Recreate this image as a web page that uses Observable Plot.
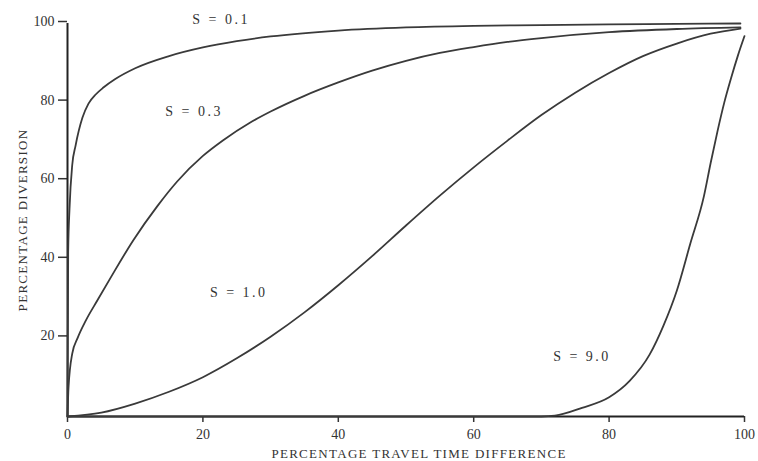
<!DOCTYPE html>
<html>
<head>
<meta charset="utf-8">
<script src="https://cdn.jsdelivr.net/npm/d3@7"></script>
<script src="https://cdn.jsdelivr.net/npm/@observablehq/plot@0.6"></script>
<style>
  html, body { margin: 0; padding: 0; background: #fff; }
  #chart { width: 758px; height: 461px; }
</style>
</head>
<body>
<div id="chart"></div>
<script>
// Series
const s01X = [0, 0.1, 0.3, 0.7, 1.2, 2.2, 3.1, 4.2, 5.3, 7, 10, 15, 20, 25, 30, 40, 50, 60, 70, 80, 90, 99.4];
const s01Y = [0, 42, 53, 64, 69, 76, 79.6, 82, 83.7, 85.8, 88.6, 91.7, 93.9, 95.5, 96.7, 98.2, 99, 99.4, 99.6, 99.8, 99.9, 100];

const s03X = [0, 0.15, 0.7, 1.5, 2.7, 4.4, 6.4, 9.7, 13.3, 16.2, 20, 23, 27, 30, 35, 40, 45, 50, 55, 60, 65, 70, 80, 90, 99.4];
const s03Y = [0, 7.4, 16, 20, 24.4, 29.5, 35.4, 44.8, 53.6, 59.8, 66.3, 70.3, 74.8, 77.6, 81.6, 85, 88, 90.5, 92.5, 94, 95.3, 96.3, 97.8, 98.6, 99];

const s10X = [0, 5, 10, 15, 20, 25, 30, 35, 40, 45, 50, 55, 60, 65, 70, 75, 80, 85, 90, 95, 99.4];
const s10Y = [0, 1, 3.3, 6.3, 10, 14.8, 20.3, 26.5, 33.4, 40.8, 48.6, 56.2, 63.4, 70.2, 76.7, 82.4, 87.4, 91.7, 94.9, 97.4, 98.7];

const s90X = [0, 70, 72, 76, 80, 83, 86, 88, 90, 92, 94, 95, 96, 97, 98, 99, 100];
const s90Y = [0, 0, 0.2, 2.2, 4.9, 9, 15.8, 23, 32, 44, 56, 64.5, 72.5, 79.8, 86, 91.7, 96.8];

const seriesNames = ["S = 0.1", "S = 0.3", "S = 1.0", "S = 9.0"];
const labelX = [22.7, 18.7, 25.3, 76];
const labelY = [101, 77.6, 31.5, 15.3];

const xTicks = [0, 20, 40, 60, 80, 100];
const yTicks = [20, 40, 60, 80, 100];
const xTitle = "PERCENTAGE TRAVEL TIME DIFFERENCE";
const yTitle = "PERCENTAGE DIVERSION";

const toRows = (name, xs, ys) => xs.map((x, i) => ({series: name, x, y: ys[i]}));
const rows = [
  ...toRows(seriesNames[0], s01X, s01Y),
  ...toRows(seriesNames[1], s03X, s03Y),
  ...toRows(seriesNames[2], s10X, s10Y),
  ...toRows(seriesNames[3], s90X, s90Y)
];
const labels = seriesNames.map((t, i) => ({t, x: labelX[i], y: labelY[i]}));

const font = "'Liberation Serif', 'DejaVu Serif', serif";
const ink = "#333";

const chart = Plot.plot({
  width: 758,
  height: 461,
  marginLeft: 67,
  marginRight: 14,
  marginTop: 23,
  marginBottom: 45,
  style: {fontFamily: font, background: "#fff", color: ink},
  x: {domain: [0, 100]},
  y: {domain: [0, 100]},
  marks: [
    Plot.axisX({ticks: xTicks, tickSize: 6, tickPadding: 7, fontSize: 14, label: null, stroke: ink, strokeWidth: 1.5}),
    Plot.axisY({ticks: yTicks, tickSize: 9, tickPadding: 4, fontSize: 14, label: null, stroke: ink, strokeWidth: 1.5, dy: -2}),
    Plot.ruleX([0], {y1: 0, y2: 100, stroke: "#222", strokeWidth: 2}),
    Plot.ruleY([0], {x1: 0, x2: 100, stroke: "#222", strokeWidth: 2}),
    Plot.line(rows, {x: "x", y: "y", z: "series", stroke: "#3a3a3a", strokeWidth: 1.8, curve: "monotone-x"}),
    Plot.text(labels, {x: "x", y: "y", text: "t", fontSize: 14, fill: ink}),
    Plot.text([xTitle], {frameAnchor: "bottom", lineAnchor: "middle", textAnchor: "middle", dx: 13, dy: 37, fontSize: 13, fill: ink}),
    Plot.text([yTitle], {frameAnchor: "left", lineAnchor: "middle", textAnchor: "middle", dx: -45, rotate: -90, fontSize: 13, fill: ink})
  ]
});
chart.querySelectorAll("text").forEach(t => {
  const s = t.textContent;
  if (s === xTitle || s === yTitle) t.setAttribute("letter-spacing", "1.3");
  if (seriesNames.includes(s)) t.setAttribute("letter-spacing", "2.5");
});
document.getElementById("chart").appendChild(chart);
</script>
</body>
</html>
